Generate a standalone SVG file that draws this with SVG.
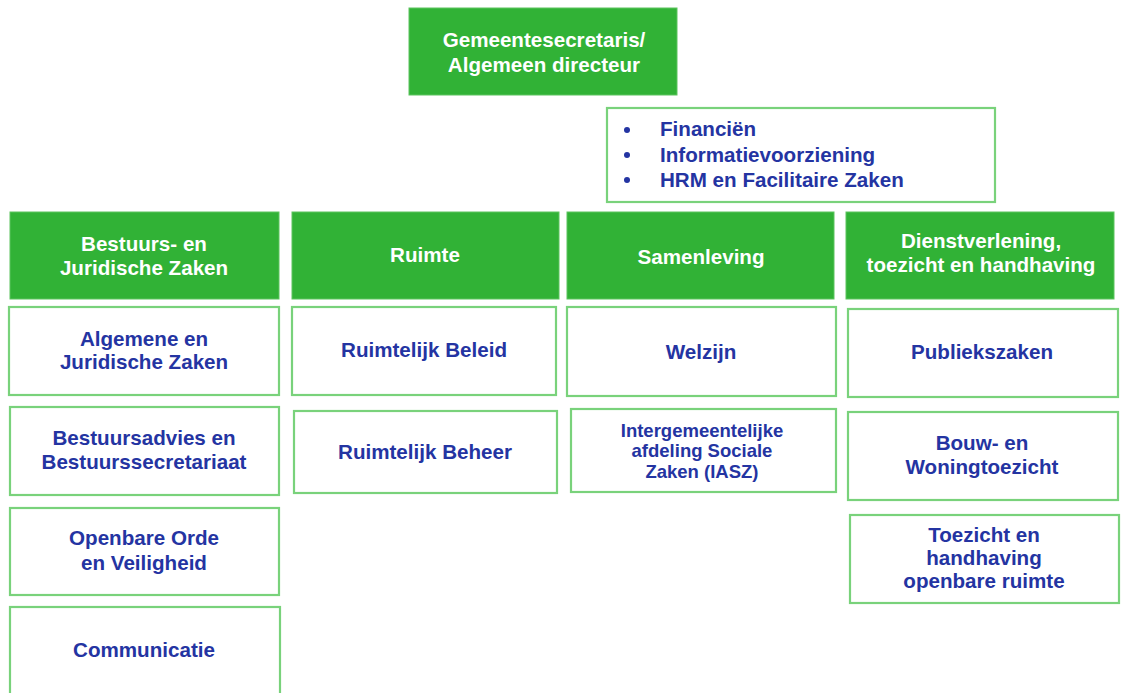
<svg xmlns="http://www.w3.org/2000/svg" width="1121" height="693" viewBox="0 0 1121 693">
<style>
.hdr{fill:#31b236;stroke:#5cc45e;stroke-width:1}
.box{fill:#ffffff;stroke:#79d27b;stroke-width:2.2}
text{font-family:"Liberation Sans",Arial,sans-serif;font-weight:bold;font-size:20.6px;text-anchor:middle}
.w{fill:#ffffff}
.b{fill:#2434a2}
.s{font-size:18.5px}
.l{text-anchor:start}
</style>
<rect width="1121" height="693" fill="#ffffff"/>
<g id="connectors"></g>
<g id="top"><rect class="hdr" x="409" y="8" width="268" height="87"/><text class="w" x="544" y="47">Gemeentesecretaris/</text><text class="w" x="544" y="72">Algemeen directeur</text></g>
<g id="staff"><rect class="box" x="607" y="108" width="388" height="94"/>
<circle cx="627" cy="130" r="3" fill="#2434a2"/><circle cx="627" cy="155" r="3" fill="#2434a2"/><circle cx="627" cy="180" r="3" fill="#2434a2"/>
<text class="b l" x="660" y="136">Financiën</text><text class="b l" x="660" y="162">Informatievoorziening</text><text class="b l" x="660" y="187">HRM en Facilitaire Zaken</text></g>
<g id="h1"><rect class="hdr" x="10" y="212" width="269" height="87"/><text class="w" x="144" y="251">Bestuurs- en</text><text class="w" x="144" y="275">Juridische Zaken</text></g>
<g id="h2"><rect class="hdr" x="292" y="212" width="267" height="87"/><text class="w" x="425" y="262">Ruimte</text></g>
<g id="h3"><rect class="hdr" x="567" y="212" width="267" height="87"/><text class="w" x="701" y="264">Samenleving</text></g>
<g id="h4"><rect class="hdr" x="846" y="212" width="268" height="87"/><text class="w" x="981" y="248">Dienstverlening,</text><text class="w" x="981" y="272">toezicht en handhaving</text></g>
<g id="c1a"><rect class="box" x="9" y="307" width="270" height="88"/><text class="b" x="144" y="346">Algemene en</text><text class="b" x="144" y="369">Juridische Zaken</text></g>
<g id="c1b"><rect class="box" x="10" y="407" width="269" height="88"/><text class="b" x="144" y="445">Bestuursadvies en</text><text class="b" x="144" y="469">Bestuurssecretariaat</text></g>
<g id="c1c"><rect class="box" x="10" y="508" width="269" height="87"/><text class="b" x="144" y="545">Openbare Orde</text><text class="b" x="144" y="570">en Veiligheid</text></g>
<g id="c1d"><rect class="box" x="10" y="607" width="270" height="95"/><text class="b" x="144" y="657">Communicatie</text></g>
<g id="c2a"><rect class="box" x="292" y="307" width="264" height="88"/><text class="b" x="424" y="357">Ruimtelijk Beleid</text></g>
<g id="c2b"><rect class="box" x="294" y="411" width="263" height="82"/><text class="b" x="425" y="459">Ruimtelijk Beheer</text></g>
<g id="c3a"><rect class="box" x="567" y="307" width="269" height="89"/><text class="b" x="701" y="359">Welzijn</text></g>
<g id="c3b"><rect class="box" x="571" y="409" width="265" height="83"/><text class="b s" x="702" y="437">Intergemeentelijke</text><text class="b s" x="702" y="457">afdeling Sociale</text><text class="b s" x="702" y="478">Zaken (IASZ)</text></g>
<g id="c4a"><rect class="box" x="848" y="309" width="270" height="88"/><text class="b" x="982" y="359">Publiekszaken</text></g>
<g id="c4b"><rect class="box" x="848" y="412" width="270" height="88"/><text class="b" x="982" y="450">Bouw- en</text><text class="b" x="982" y="474">Woningtoezicht</text></g>
<g id="c4c"><rect class="box" x="850" y="515" width="269" height="88"/><text class="b" x="984" y="542">Toezicht en</text><text class="b" x="984" y="565">handhaving</text><text class="b" x="984" y="588">openbare ruimte</text></g>
</svg>
